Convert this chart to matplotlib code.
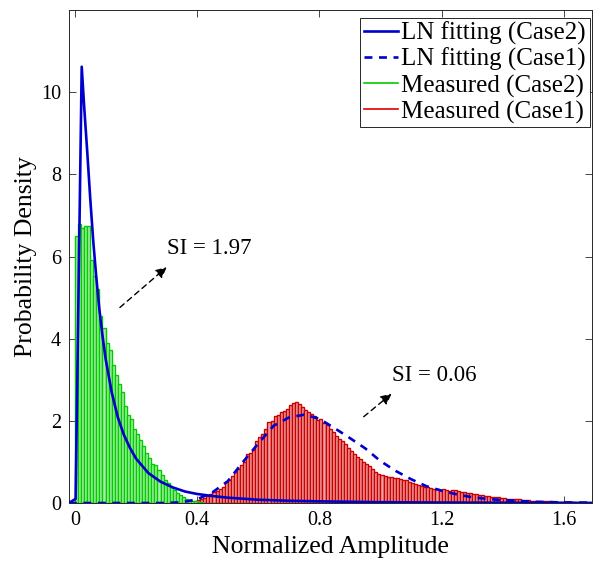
import numpy as np
import matplotlib
matplotlib.use("Agg")
import matplotlib.pyplot as plt
from matplotlib.lines import Line2D

plt.rcParams['font.family'] = ['Liberation Serif', 'DejaVu Serif']
plt.rcParams['mathtext.fontset'] = 'stix'

# ---------------- data ----------------
bin_width = 0.01

green_start = 0.0
green_heights = [6.50, 6.80, 6.70, 6.74, 6.74, 5.92, 5.52, 5.21, 4.55, 4.25,
                 3.89, 3.73, 3.37, 3.12, 2.90, 2.70, 2.35, 2.14, 2.05, 1.81,
                 1.69, 1.53, 1.40, 1.21, 1.10, 0.96, 0.93, 0.80, 0.68, 0.56,
                 0.48, 0.38, 0.32, 0.25, 0.19, 0.15, 0.11, 0.08, 0.06, 0.04,
                 0.03, 0.02]

red_start = 0.35
red_heights = [0.01, 0.02, 0.02, 0.03, 0.05, 0.07, 0.10, 0.13, 0.17, 0.21,
               0.26, 0.30, 0.35, 0.40, 0.50, 0.57, 0.66, 0.76, 0.84, 0.92,
               1.00, 1.19, 1.21, 1.29, 1.51, 1.61, 1.69, 1.79, 1.97, 1.99,
               2.11, 2.14, 2.22, 2.24, 2.30, 2.38, 2.44, 2.46, 2.40, 2.33,
               2.27, 2.22, 2.16, 2.11, 2.03, 2.05, 1.95, 1.89, 1.81, 1.73,
               1.64, 1.55, 1.50, 1.43, 1.33, 1.27, 1.20, 1.12, 1.06, 1.00,
               0.94, 0.90, 0.84, 0.76, 0.70, 0.68, 0.66, 0.64, 0.63, 0.61,
               0.60, 0.58, 0.57, 0.55, 0.52, 0.49, 0.47, 0.45, 0.42, 0.40,
               0.38, 0.36, 0.34, 0.33, 0.32, 0.33, 0.32, 0.30, 0.31, 0.32,
               0.29, 0.27, 0.27, 0.25, 0.24, 0.23, 0.22, 0.20, 0.19, 0.17,
               0.16, 0.15, 0.14, 0.14, 0.13, 0.12, 0.11, 0.10, 0.10, 0.09,
               0.09, 0.08, 0.07, 0.07, 0.06, 0.06, 0.05, 0.05, 0.05, 0.04,
               0.04, 0.03, 0.03, 0.03, 0.02, 0.02, 0.02, 0.02, 0.02, 0.01,
               0.01, 0.01, 0.01, 0.01, 0.01]

fit2_x = [-0.02, 0.002, 0.022, 0.03, 0.04, 0.05, 0.06, 0.07, 0.08, 0.09,
          0.10, 0.12, 0.14, 0.16, 0.18, 0.20, 0.24, 0.28, 0.32, 0.36,
          0.40, 0.45, 0.50, 0.60, 0.70, 0.80, 0.90, 1.00, 1.20, 1.40, 1.70]
fit2_y = [0.0, 0.1, 10.62, 9.65, 8.56, 7.40, 6.35, 5.47, 4.70, 4.07,
          3.52, 2.70, 2.09, 1.66, 1.34, 1.08, 0.73, 0.52, 0.38, 0.28,
          0.22, 0.17, 0.13, 0.08, 0.055, 0.04, 0.03, 0.02, 0.012, 0.007, 0.003]

fit1_x = [-0.02, 0.30, 0.35, 0.40, 0.45, 0.50, 0.55, 0.60, 0.65, 0.70,
          0.75, 0.80, 0.85, 0.90, 0.95, 1.00, 1.05, 1.10, 1.15, 1.20,
          1.25, 1.30, 1.35, 1.40, 1.50, 1.60, 1.70]
fit1_y = [0.0, 0.0, 0.02, 0.09, 0.26, 0.53, 1.00, 1.45, 1.88, 2.08,
          2.15, 2.05, 1.82, 1.58, 1.33, 1.02, 0.78, 0.58, 0.41, 0.30,
          0.21, 0.14, 0.10, 0.07, 0.03, 0.015, 0.007]

legend_labels = ['LN fitting (Case2)', 'LN fitting (Case1)',
                 'Measured (Case2)', 'Measured (Case1)']
x_ticks = [0, 0.4, 0.8, 1.2, 1.6]
x_ticklabels = ['0', '0.4', '0.8', '1.2', '1.6']
y_ticks = [0, 2, 4, 6, 8, 10]

# ---------------- plot ----------------
fig = plt.figure(figsize=(5.95, 5.65), dpi=100)
ax = fig.add_axes([0.1168, 0.1097, 0.878, 0.8726])

blue = '#0000cc'
green_edge = '#00cc00'
green_face = '#a8eea8'
red_edge = '#cc0000'
red_face = '#eea0a0'

red_left = red_start + bin_width * np.arange(len(red_heights))
green_left = green_start + bin_width * np.arange(len(green_heights))

ax.bar(red_left, red_heights, width=bin_width, align='edge',
       color=red_face, edgecolor=red_edge, linewidth=1.0, zorder=2)
ax.bar(green_left, green_heights, width=bin_width, align='edge',
       color=green_face, edgecolor=green_edge, linewidth=1.0, zorder=2)

ax.plot(fit2_x, fit2_y, color=blue, lw=1.9, zorder=4)
ax.plot(fit1_x, fit1_y, color=blue, lw=1.9, ls=(0, (3, 2.5)), zorder=4)

ax.set_xlim(-0.018, 1.692)
ax.set_ylim(0, 12)
ax.set_xticks(x_ticks)
ax.set_xticklabels(x_ticklabels)
ax.set_yticks(y_ticks)

ax.tick_params(direction='in', which='both', top=True, right=True,
               length=5, width=0.6, labelsize=14.5, colors='#262626',
               pad=6)
for lbl in ax.get_xticklabels() + ax.get_yticklabels():
    lbl.set_color('black')
for s in ax.spines.values():
    s.set_linewidth(0.7)
    s.set_color('#262626')

ax.set_xlabel('Normalized Amplitude', fontsize=18.5, labelpad=4)
ax.set_ylabel('Probability Density', fontsize=18.5, labelpad=3)

# annotations
ax.annotate('', xy=(0.30, 5.74), xytext=(0.147, 4.76),
            arrowprops=dict(arrowstyle='-|>', color='k', lw=1.0,
                            linestyle=(0, (4, 3)), mutation_scale=16,
                            shrinkA=0, shrinkB=0), zorder=5)
ax.text(0.30, 6.19, 'SI = 1.97', fontsize=16.5, ha='left', va='center')

ax.annotate('', xy=(1.036, 2.66), xytext=(0.945, 2.10),
            arrowprops=dict(arrowstyle='-|>', color='k', lw=1.0,
                            linestyle=(0, (4, 3)), mutation_scale=16,
                            shrinkA=0, shrinkB=0), zorder=5)
ax.text(1.037, 3.11, 'SI = 0.06', fontsize=16.5, ha='left', va='center')

handles = [Line2D([], [], color=blue, lw=1.9),
           Line2D([], [], color=blue, lw=1.9, ls=(0, (3, 2.5))),
           Line2D([], [], color='#00cc00', lw=1.2),
           Line2D([], [], color='#dd0000', lw=1.2)]
leg = ax.legend(handles, legend_labels, loc='upper right',
                bbox_to_anchor=(0.996, 0.984), borderaxespad=0,
                fontsize=18, handlelength=1.35, handletextpad=0.15,
                borderpad=0.15, labelspacing=0.12, fancybox=False,
                framealpha=1, edgecolor='#262626')
leg.get_frame().set_linewidth(0.7)

fig.savefig('out.png', dpi=100)
